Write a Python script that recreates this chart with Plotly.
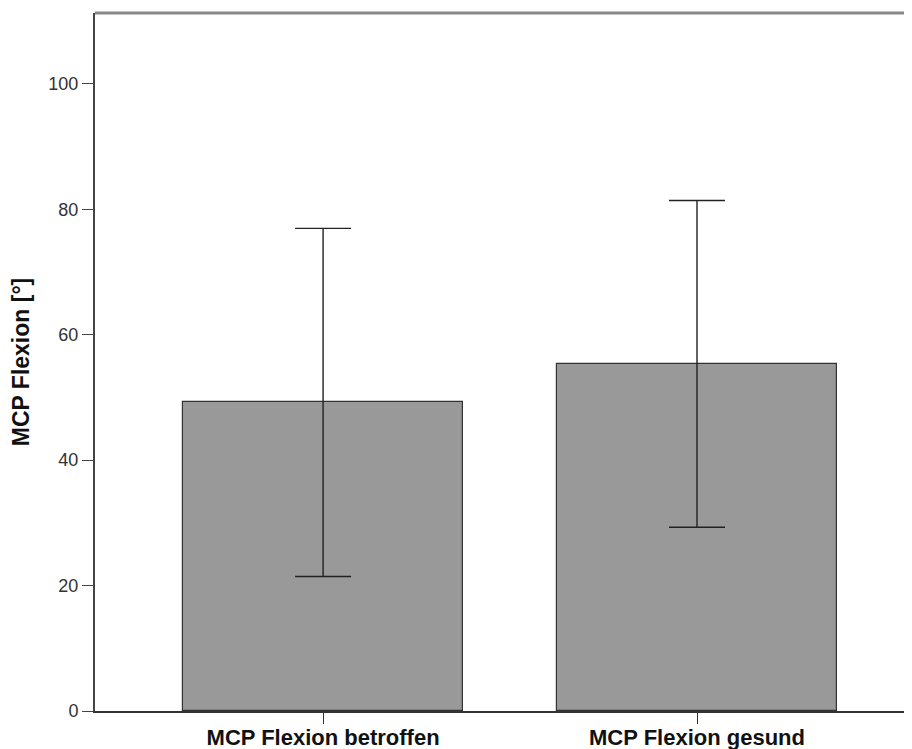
import plotly.graph_objects as go

categories = ["MCP Flexion betroffen", "MCP Flexion gesund"]
means = [49.2, 55.35]
err = [27.75, 26.05]
y_ticks = [0, 20, 40, 60, 80, 100]
y_title = "MCP Flexion [°]"

FONT = "Arial, Liberation Sans, sans-serif"

fig = go.Figure()
fig.add_trace(go.Bar(
    x=[0, 1], y=means,
    width=0.75,
    marker=dict(color="#999999", line=dict(color="#333333", width=1.2)),
    error_y=dict(type="data", array=err, visible=True, color="#222222", thickness=1.4, width=28),
    hoverinfo="skip",
))

# page body has an 8px default margin: size figure to fit window
fig.update_layout(
    width=904, height=741,
    margin=dict(l=87, r=0, t=5, b=38),
    paper_bgcolor="white", plot_bgcolor="white",
    showlegend=False,
    bargap=0,
    xaxis=dict(
        range=[-0.61, 1.575],
        tickmode="array", tickvals=[0, 1], ticktext=categories,
        ticks="outside", ticklen=11, tickwidth=1.2, tickcolor="#333333",
        ticklabelstandoff=-5,
        tickfont=dict(family=FONT, size=22, color="#111111", weight="bold"),
        showline=True, linecolor="#333333", linewidth=1.5,
        showgrid=False, zeroline=False, fixedrange=True, automargin=False,
    ),
    yaxis=dict(
        range=[0, 111.3],
        tickmode="array", tickvals=y_ticks,
        ticks="outside", ticklen=11, tickwidth=1.2, tickcolor="#444444",
        tickfont=dict(family=FONT, size=18, color="#333333"),
        showline=True, linecolor="#444444", linewidth=2,
        showgrid=False, zeroline=False, automargin=False,
        title=dict(text=y_title, font=dict(family=FONT, size=23, color="#111111", weight="bold"), standoff=14),
    ),
    shapes=[dict(type="line", xref="paper", yref="paper", x0=0, x1=1, y0=1, y1=1,
                 line=dict(color="#888888", width=3))],
)

fig.write_html("out.html")
